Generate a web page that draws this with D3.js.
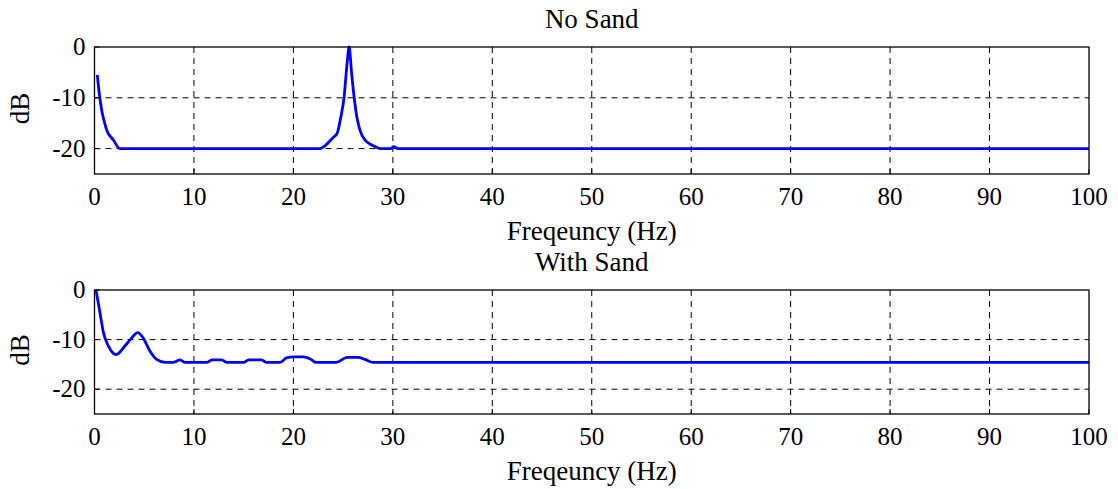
<!DOCTYPE html>
<html>
<head>
<meta charset="utf-8">
<script src="https://cdn.jsdelivr.net/npm/d3@7"></script>
</head>
<body style="margin:0">
<svg id="chart" width="1118" height="489" style="font-family: 'Liberation Serif'"></svg>
<script>
// x ticks / y ticks
var xTicks = [0, 10, 20, 30, 40, 50, 60, 70, 80, 90, 100];
var yTicks = [0, -10, -20];

// No Sand response (Hz, dB)
var noSandFreq = [0.28, 0.5, 0.72, 1.0, 1.23, 1.9, 2.56, 10, 22.7, 23.2, 24.0, 24.4, 24.75, 25.1, 25.4, 25.6, 25.85, 26.1, 26.4, 26.7, 27.2, 27.7, 28.2, 28.7, 29.8, 30.1, 30.5, 100];
var noSandDb   = [-5.5, -9.5, -12.4, -14.8, -16.4, -18.3, -20, -20, -20, -19.4, -17.8, -17, -14, -9.8, -3.2, 0, -5.1, -9.8, -14, -16.4, -18.3, -19.1, -19.6, -20, -20, -19.6, -20, -20];

// With Sand response (Hz, dB)
var sandFreq = [0.15, 0.55, 0.9, 1.4, 2.2, 3.05, 3.6, 4.35, 4.9, 5.6, 6.25, 7.1, 7.9, 8.6, 9.1, 11.3, 11.8, 12.8, 13.3, 15.0, 15.5, 16.8, 17.3, 18.65, 19.3, 20.0, 21.0, 21.7, 22.3, 24.3, 25.4, 26.5, 27.2, 28.0, 100];
var sandDb   = [0, -4.6, -8.6, -11.3, -13, -11.3, -10, -8.6, -9.7, -12.4, -14, -14.6, -14.6, -14.1, -14.6, -14.6, -14.1, -14.1, -14.6, -14.6, -14.1, -14.1, -14.6, -14.6, -13.7, -13.5, -13.5, -13.9, -14.6, -14.6, -13.6, -13.6, -14, -14.6, -14.6];

var titles = ["No Sand", "With Sand"];
var xLabel = "Freqeuncy (Hz)";
var yLabel = "dB";

var svg = d3.select("#chart");

var panels = [
    { top: 47, bottom: 174, freq: noSandFreq, db: noSandDb, title: titles[0] },
    { top: 290, bottom: 414, freq: sandFreq, db: sandDb, title: titles[1] }
];

var x = d3.scaleLinear().domain([0, 100]).range([94.5, 1089]);

// serif text helper
function addText(size) {
    return svg.append("text")
        .attr("style", "font-family: 'Liberation Serif'; font-size: " + size + "px");
}

panels.forEach(function(p) {
    var y = d3.scaleLinear().domain([-25, 0]).range([p.bottom, p.top]);

    // grid
    svg.selectAll(null).data(xTicks.slice(1, -1)).enter().append("line")
        .attr("x1", d => x(d)).attr("x2", d => x(d))
        .attr("y1", p.top).attr("y2", p.bottom)
        .attr("stroke", "#000").attr("stroke-width", 1)
        .attr("stroke-dasharray", "6,5");
    svg.selectAll(null).data(yTicks.slice(1)).enter().append("line")
        .attr("x1", x(0)).attr("x2", x(100))
        .attr("y1", d => y(d)).attr("y2", d => y(d))
        .attr("stroke", "#000").attr("stroke-width", 1)
        .attr("stroke-dasharray", "6,5");

    // curve
    var pts = p.freq.map((f, i) => [f, p.db[i]]);
    var line = d3.line().x(d => x(d[0])).y(d => y(d[1])).curve(d3.curveMonotoneX);
    svg.append("path").datum(pts)
        .attr("d", line)
        .attr("fill", "none")
        .attr("stroke", "#0000ff")
        .attr("stroke-width", 2.8)
        .attr("stroke-linejoin", "round");

    // box
    svg.append("rect")
        .attr("x", x(0)).attr("y", p.top)
        .attr("width", x(100) - x(0)).attr("height", p.bottom - p.top)
        .attr("fill", "none").attr("stroke", "#000").attr("stroke-width", 1.3);

    // inner tick marks
    svg.selectAll(null).data(xTicks).enter().append("line")
        .attr("x1", d => x(d)).attr("x2", d => x(d))
        .attr("y1", p.bottom).attr("y2", p.bottom - 5)
        .attr("stroke", "#000");
    svg.selectAll(null).data(yTicks).enter().append("line")
        .attr("x1", x(0)).attr("x2", x(0) + 5)
        .attr("y1", d => y(d)).attr("y2", d => y(d))
        .attr("stroke", "#000");

    // tick labels from scales
    xTicks.forEach(function(t) {
        addText(25)
            .attr("x", x(t)).attr("y", p.bottom + 31)
            .attr("text-anchor", "middle")
            .text(x.tickFormat()(t));
    });
    yTicks.forEach(function(t) {
        addText(25)
            .attr("x", x(0) - 9).attr("y", y(t) + 8)
            .attr("text-anchor", "end")
            .text(y.tickFormat()(t).replace("−", "-"));
    });

    // title
    addText(27)
        .attr("x", (x(0) + x(100)) / 2).attr("y", p.top - 19)
        .attr("text-anchor", "middle")
        .text(p.title);

    // x label
    addText(27)
        .attr("x", (x(0) + x(100)) / 2).attr("y", p.bottom + 66)
        .attr("text-anchor", "middle")
        .text(xLabel);

    // y label
    addText(27)
        .attr("transform", `translate(29, ${(p.top + p.bottom) / 2 - 2}) rotate(-90)`)
        .attr("text-anchor", "middle")
        .text(yLabel);
});
</script>
</body>
</html>
